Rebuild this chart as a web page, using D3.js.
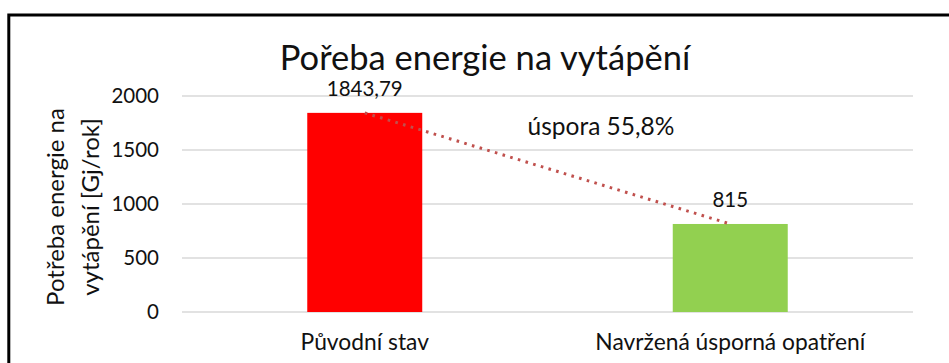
<!DOCTYPE html>
<html>
<head>
<meta charset="utf-8">
<script src="https://cdn.jsdelivr.net/npm/d3@7"></script>
<style>
  html, body { margin: 0; padding: 0; background: #fff; }
  svg { display: block; font-family: Lato, "Open Sans", sans-serif; }
</style>
</head>
<body>
<svg id="chart" width="949" height="363"></svg>
<script>
// Heating energy demand: original state vs. proposed savings measures
const categories = ["Původní stav", "Navržená úsporná opatření"];
const values = [1843.79, 815];
const valueLabels = ["1843,79", "815"];
const barColors = ["#ff0000", "#92d050"];
const yTicks = [0, 500, 1000, 1500, 2000];
const titleText = "Pořeba energie na vytápění";
const yTitleLines = ["Potřeba energie na", "vytápění [Gj/rok]"];
const savingText = "úspora 55,8%";

const svg = d3.select("#chart");
const W = 949, H = 363;
const plot = { left: 182, right: 913, top: 96, bottom: 312 };

// frame around the whole chart
svg.append("rect")
  .attr("x", 8.8).attr("y", 15)
  .attr("width", W + 20).attr("height", H + 20)
  .attr("fill", "#fff").attr("stroke", "#000").attr("stroke-width", 3);

const x = d3.scaleBand()
  .domain(categories)
  .range([plot.left, plot.right])
  .paddingInner(0.6854)
  .paddingOuter(0.3427);

const y = d3.scaleLinear()
  .domain([0, 2000])
  .range([plot.bottom, plot.top]);

// horizontal gridlines
svg.append("g")
  .selectAll("line")
  .data(yTicks)
  .join("line")
  .attr("x1", plot.left).attr("x2", plot.right)
  .attr("y1", d => y(d)).attr("y2", d => y(d))
  .attr("stroke", "#d9d9d9").attr("stroke-width", 1.5);

// y axis tick labels
const yAxis = svg.append("g")
  .attr("transform", `translate(${plot.left},0)`)
  .call(d3.axisLeft(y).tickValues(yTicks).tickSize(0).tickPadding(23).tickFormat(d3.format("d")));
yAxis.select(".domain").remove();
yAxis.selectAll("text")
  .attr("font-family", "Lato, sans-serif")
  .attr("font-size", 20.5)
  .attr("fill", "#111");

// bars
svg.append("g")
  .selectAll("rect")
  .data(values)
  .join("rect")
  .attr("x", (d, i) => x(categories[i]))
  .attr("width", x.bandwidth())
  .attr("y", d => y(d))
  .attr("height", d => y(0) - y(d))
  .attr("fill", (d, i) => barColors[i]);

// value labels above bars
svg.append("g")
  .selectAll("text")
  .data(values)
  .join("text")
  .attr("x", (d, i) => x(categories[i]) + x.bandwidth() / 2)
  .attr("y", d => y(d) - 17)
  .attr("text-anchor", "middle")
  .attr("font-size", 20.5)
  .attr("fill", "#111")
  .text((d, i) => valueLabels[i]);

// dotted trend line between the bar tops
const trend = d3.line()
  .x((d, i) => x(categories[i]) + x.bandwidth() / 2)
  .y(d => y(d));
svg.append("path")
  .datum(values)
  .attr("d", trend)
  .attr("fill", "none")
  .attr("stroke", "#c0504d")
  .attr("stroke-width", 3)
  .attr("stroke-dasharray", "2.6 5.4");

// category labels
svg.append("g")
  .selectAll("text")
  .data(categories)
  .join("text")
  .attr("x", d => x(d) + x.bandwidth() / 2)
  .attr("y", 350)
  .attr("text-anchor", "middle")
  .attr("font-size", 22.8)
  .attr("fill", "#111")
  .text(d => d);

// saving annotation
svg.append("text")
  .attr("x", 601).attr("y", 135)
  .attr("text-anchor", "middle")
  .attr("font-size", 24.5)
  .attr("fill", "#111")
  .text(savingText);

// chart title
svg.append("text")
  .attr("x", 485).attr("y", 70)
  .attr("text-anchor", "middle")
  .attr("font-size", 34.5)
  .attr("fill", "#111")
  .text(titleText);

// y axis title, two rotated lines
const yTitle = svg.append("text")
  .attr("transform", "translate(64,207) rotate(-90)")
  .attr("text-anchor", "middle")
  .attr("font-size", 24)
  .attr("fill", "#111");
yTitle.selectAll("tspan")
  .data(yTitleLines)
  .join("tspan")
  .attr("x", 0)
  .attr("dy", (d, i) => i === 0 ? 0 : 35)
  .text(d => d);
</script>
</body>
</html>
